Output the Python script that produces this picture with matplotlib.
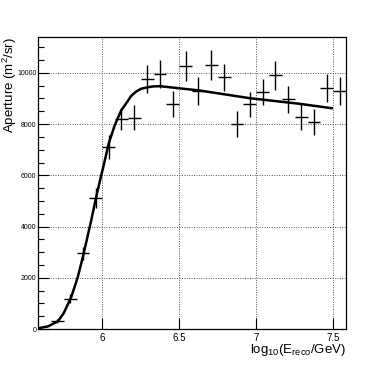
import numpy as np
import matplotlib.pyplot as plt

plt.rcParams['font.family'] = ['Liberation Sans', 'DejaVu Sans']
plt.rcParams['mathtext.fontset'] = 'custom'
plt.rcParams['mathtext.rm'] = 'Liberation Sans'
plt.rcParams['mathtext.it'] = 'Liberation Sans:italic'

# binned aperture points (bin centres in log10 E, value, stat error)
log_e = [5.708, 5.792, 5.875, 5.958, 6.042, 6.125, 6.208, 6.292, 6.375, 6.458,
         6.542, 6.625, 6.708, 6.792, 6.875, 6.958, 7.042, 7.125, 7.208, 7.292,
         7.375, 7.458, 7.542]
aperture = [300, 1190, 2950, 5100, 7100, 8180, 8240, 9750, 9940, 8800,
            10260, 9300, 10310, 9820, 8000, 8770, 9250, 9900, 8970, 8280,
            8070, 9410, 9300]
aperture_err = [80, 160, 250, 390, 455, 430, 490, 550, 550, 510,
                590, 540, 580, 540, 500, 500, 520, 555, 535, 520,
                500, 555, 540]
bin_half = 0.0417

# fit curve
fit_x = [5.583, 5.647, 5.712, 5.75, 5.799, 5.84, 5.875, 5.929, 5.961, 5.994,
         6.01, 6.042, 6.081, 6.123, 6.16, 6.188, 6.22, 6.253, 6.297, 6.33,
         6.375, 6.634, 6.959, 7.284, 7.49]
fit_y = [30, 100, 300, 620, 1250, 2000, 2830, 4250, 5160, 6010,
         6400, 7240, 7950, 8530, 8850, 9100, 9270, 9380, 9440, 9470,
         9480, 9310, 9010, 8790, 8620]

fig = plt.figure(figsize=(3.85, 3.66), dpi=100)
ax = fig.add_axes([38 / 385, 1 - 329 / 366, 308 / 385, 292 / 366])

ax.errorbar(log_e, aperture, yerr=aperture_err, xerr=bin_half, fmt='none',
            ecolor='black', elinewidth=1.0, capsize=0)
ax.plot(fit_x, fit_y, color='black', lw=1.8)

ax.set_xlim(5.583, 7.583)
ax.set_ylim(0, 11400)
ax.set_xticks([6, 6.5, 7, 7.5])
ax.set_xticklabels(['6', '6.5', '7', '7.5'])
ax.set_yticks(np.arange(0, 11000, 2000))
ax.set_yticks(np.arange(0, 11500, 500), minor=True)
ax.tick_params(axis='x', direction='in', length=8, width=0.8, labelsize=7, pad=3)
ax.tick_params(axis='y', which='major', direction='in', length=8, width=0.8,
               labelsize=5, pad=1)
ax.tick_params(axis='y', which='minor', direction='in', length=4, width=0.8)
ax.grid(True, which='major', color='#555555', linestyle=(0, (1, 1.5)), lw=0.7)
for s in ax.spines.values():
    s.set_linewidth(0.9)

fig.text(10 / 385, 1 - 37 / 366, r'Aperture (m$^{2}$/sr)', rotation=90,
         ha='center', va='top', fontsize=9.5)
fig.text(346 / 385, 1 - 342 / 366,
         r'log$_{10}$(E$_{\mathrm{reco}}$/GeV)', ha='right', va='top',
         fontsize=9.5)

fig.savefig('out.png', dpi=100)
